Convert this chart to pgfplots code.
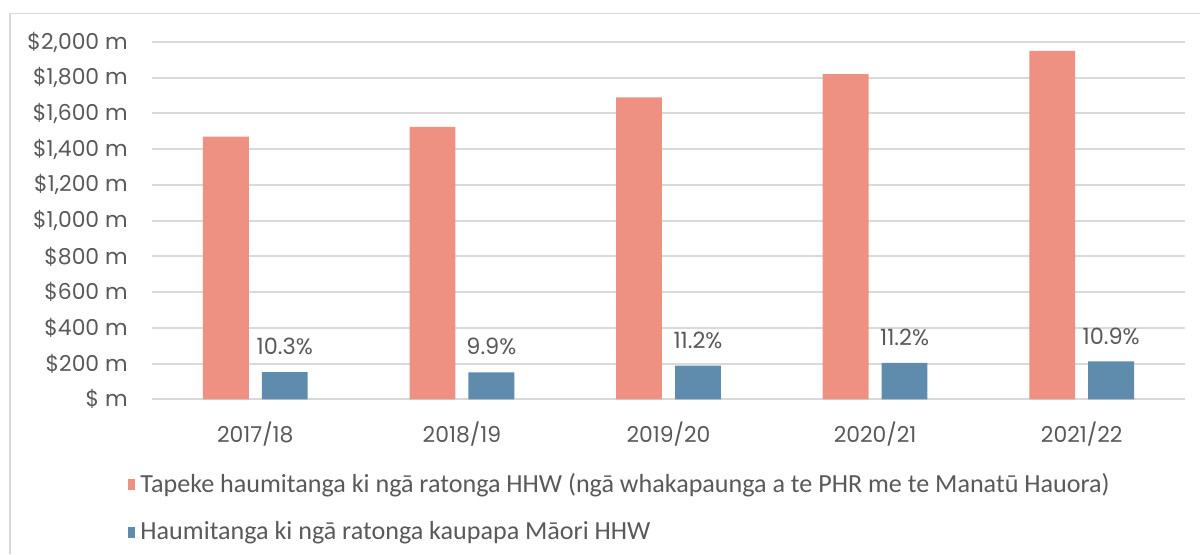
\documentclass[border=0pt]{standalone}
\usepackage{pgfplots}
\pgfplotsset{compat=1.18}
\usepackage{fontspec}
\setmainfont{Poppins}
\newfontfamily\legfont{Carlito}

\definecolor{salmon}{HTML}{EE9082}
\definecolor{steel}{HTML}{5F8BAD}
\definecolor{gridc}{HTML}{D9D9D9}
\definecolor{txt}{HTML}{595959}

\begin{document}
\begin{tikzpicture}
\begin{axis}[
  scale only axis,
  width=13.773cm, height=4.764cm,
  xmin=-0.5, xmax=4.5, ymin=0, ymax=2000,
  xtick={0,...,4},
  xticklabels={2017/18,2018/19,2019/20,2020/21,2021/22},
  ytick={0,200,...,2000},
  yticklabels={{\$ m},{\$200 m},{\$400 m},{\$600 m},{\$800 m},{\$1,000 m},{\$1,200 m},{\$1,400 m},{\$1,600 m},{\$1,800 m},{\$2,000 m}},
  ymajorgrids, major grid style={gridc, line width=0.75pt},
  axis line style={draw=none}, major tick length=0pt,
  tick label style={font=\fontsize{8.3}{10}\selectfont, text=txt},
  xticklabel style={yshift=-5pt},
  yticklabel style={xshift=-5.7pt},
  clip=false,
  legend cell align=left,
  legend image code/.code={\fill (0cm,-0.075cm) rectangle (0.1cm,0.075cm);},
  legend style={draw=none, fill=none, inner sep=0pt,
    at={(rel axis cs:-0.024,-0.19)}, anchor=north west,
    font=\legfont\fontsize{9.9}{12}\selectfont, text=txt, row sep=5.5pt},
]
  % total HHW spend
  \addplot[ybar, fill=salmon, draw=none, bar width=0.222, bar shift=-0.1425]
    coordinates {(0,1470)(1,1525)(2,1690)(3,1820)(4,1950)};
  % kaupapa Maori spend, share shown above the bar
  \addplot[ybar, fill=steel, draw=none, bar width=0.222, bar shift=0.1425,
    point meta=explicit symbolic,
    nodes near coords={\pgfplotspointmeta\%},
    nodes near coords style={font=\fontsize{8.5}{10}\selectfont, text=txt,
      anchor=south, inner sep=0pt, yshift=6.3pt, xshift=0.393cm}]
    table[meta=lab] {
      x y   lab
      0 152 10.3
      1 151 9.9
      2 189 11.2
      3 204 11.2
      4 212 10.9
    };
  \legend{Tapeke haumitanga ki ngā ratonga HHW (ngā whakapaunga a te PHR me te Manatū Hauora),
    Haumitanga ki ngā ratonga kaupapa Māori HHW}
  \draw[gridc, line width=0.6pt] (rel axis cs:-0.1375,-0.433) -- (rel axis cs:-0.1375,1.0798) -- (rel axis cs:1.0145,1.0798);
  \coordinate (bl) at (rel axis cs:-0.1471,-0.433);
  \coordinate (tr) at (rel axis cs:1.0145,1.1175);
\end{axis}
\pgfresetboundingbox
\path (bl) rectangle (tr);
\end{tikzpicture}
\end{document}
